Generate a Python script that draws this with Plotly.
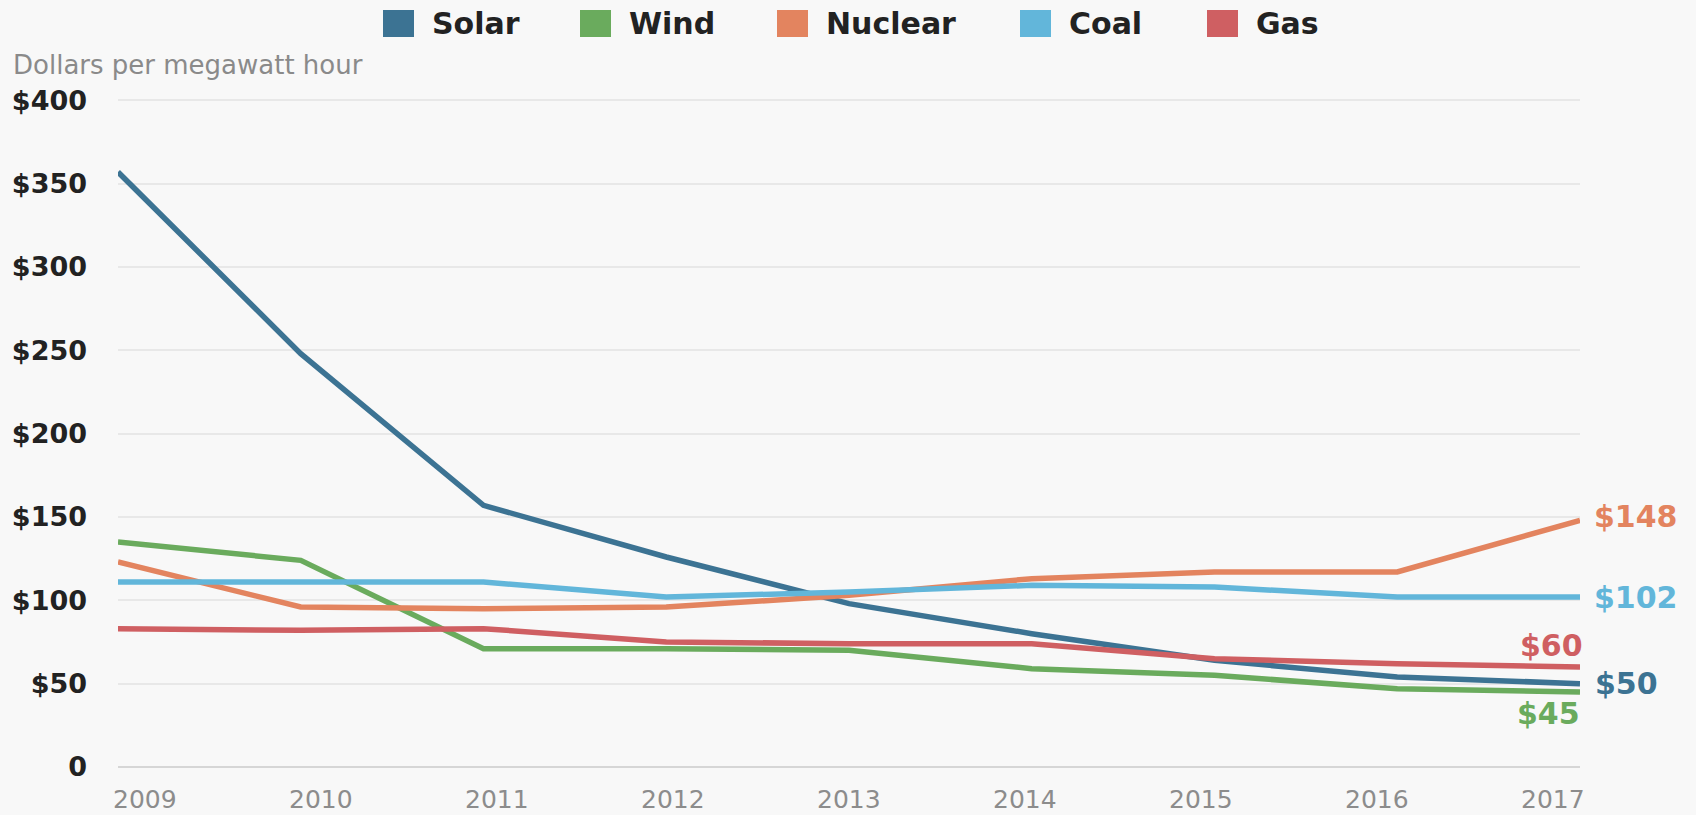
import plotly.graph_objects as go

# ---- data ----
years = [2009, 2010, 2011, 2012, 2013, 2014, 2015, 2016, 2017]
x_ticktext = ["2009", "2010", "2011", "2012", "2013", "2014", "2015", "2016", "2017"]
solar = [357, 248, 157, 126, 98, 80, 64, 54, 50]
wind = [135, 124, 71, 71, 70, 59, 55, 47, 45]
nuclear = [123, 96, 95, 96, 103, 113, 117, 117, 148]
coal = [111, 111, 111, 102, 105, 109, 108, 102, 102]
gas = [83, 82, 83, 75, 74, 74, 65, 62, 60]

series_names = ["Solar", "Wind", "Nuclear", "Coal", "Gas"]
series_values = [solar, wind, nuclear, coal, gas]
colors = ["#3c7393", "#6aab5d", "#e3845f", "#62b6da", "#cf5f62"]

y_tickvals = [0, 50, 100, 150, 200, 250, 300, 350, 400]
y_ticktext = ["0", "$50", "$100", "$150", "$200", "$250", "$300", "$350", "$400"]
y_title = "Dollars per megawatt hour"

# ---- layout geometry ----
W, H = 1696, 815
ML, MR, MT, MB = 118, 116, 97, 48
PW, PH = W - ML - MR, H - MT - MB
FONT = "DejaVu Sans"
LABEL_INSET = 0.963  # x tick labels sit slightly inside the point positions


def px_x(px):
    return (px - ML) / PW


def px_y(py):
    return (H - MB - py) / PH


fig = go.Figure()
for name, vals, col in zip(series_names, series_values, colors):
    fig.add_trace(go.Scatter(
        x=years, y=vals, name=name, mode="lines",
        line=dict(color=col, width=5.5), showlegend=False,
        cliponaxis=False,
        hovertemplate=name + " %{x}: $%{y}<extra></extra>",
    ))

# end-of-line value labels
label_cfg = {
    "Solar": dict(xanchor="left", xshift=13, yshift=0),
    "Wind": dict(xanchor="right", xshift=2, yshift=-21),
    "Nuclear": dict(xanchor="left", xshift=12, yshift=4),
    "Coal": dict(xanchor="left", xshift=12, yshift=0),
    "Gas": dict(xanchor="right", xshift=5, yshift=22),
}
for name, vals, col in zip(series_names, series_values, colors):
    c = label_cfg[name]
    fig.add_annotation(
        x=years[-1], y=vals[-1], xref="x", yref="y",
        text=f"${vals[-1]}", showarrow=False,
        xanchor=c["xanchor"], yanchor="middle",
        xshift=c["xshift"], yshift=c["yshift"],
        font=dict(family=FONT, size=30, color=col, weight="bold"),
    )

# x tick labels
mid = (years[0] + years[-1]) / 2
for yr, txt in zip(years, x_ticktext):
    fig.add_annotation(
        x=mid + (yr - mid) * LABEL_INSET, y=0, xref="x", yref="paper",
        text=txt, showarrow=False, xanchor="center", yanchor="middle",
        yshift=-32,
        font=dict(family=FONT, size=25, color="#8c8c8c"),
    )

# custom legend (square swatches)
legend_sq_x = [383, 580, 777, 1020, 1207]
for name, col, sx in zip(series_names, colors, legend_sq_x):
    fig.add_shape(
        type="rect", xref="paper", yref="paper",
        x0=px_x(sx), x1=px_x(sx + 31), y0=px_y(37), y1=px_y(10),
        fillcolor=col, line=dict(width=0),
    )
    fig.add_annotation(
        xref="paper", yref="paper", x=px_x(sx + 47), y=px_y(24),
        text=name, showarrow=False, xanchor="left", yanchor="middle",
        font=dict(family=FONT, size=30, color="#222222", weight="bold"),
    )

# y axis title
fig.add_annotation(
    xref="paper", yref="paper", x=px_x(11), y=px_y(65),
    text=y_title, showarrow=False, xanchor="left", yanchor="middle",
    font=dict(family=FONT, size=26, color="#8a8a8a"),
)

fig.update_layout(
    width=W, height=H,
    margin=dict(l=ML, r=MR, t=MT, b=MB, pad=0),
    paper_bgcolor="#f8f8f8", plot_bgcolor="#f8f8f8",
    font=dict(family=FONT),
    showlegend=False,
    xaxis=dict(
        range=[2009, 2017], tickvals=years, showticklabels=False,
        showgrid=False, zeroline=False, showline=False, ticks="",
        fixedrange=True,
    ),
    yaxis=dict(
        range=[0, 402], tickvals=y_tickvals, ticktext=y_ticktext,
        showgrid=True, gridcolor="#e8e8e8", gridwidth=1.5,
        zeroline=True, zerolinecolor="#d6d6d6", zerolinewidth=2,
        showline=False, ticks="",
        tickfont=dict(family=FONT, size=27, color="#222222", weight="bold"),
        ticklabelstandoff=30, fixedrange=True,
    ),
)

fig.write_html(
    "out.html",
    config={"displayModeBar": False},
    post_script=(
        "document.body.style.margin='0';"
        "document.body.style.overflow='hidden';"
        "document.body.style.background='#f8f8f8';"
    ),
)
